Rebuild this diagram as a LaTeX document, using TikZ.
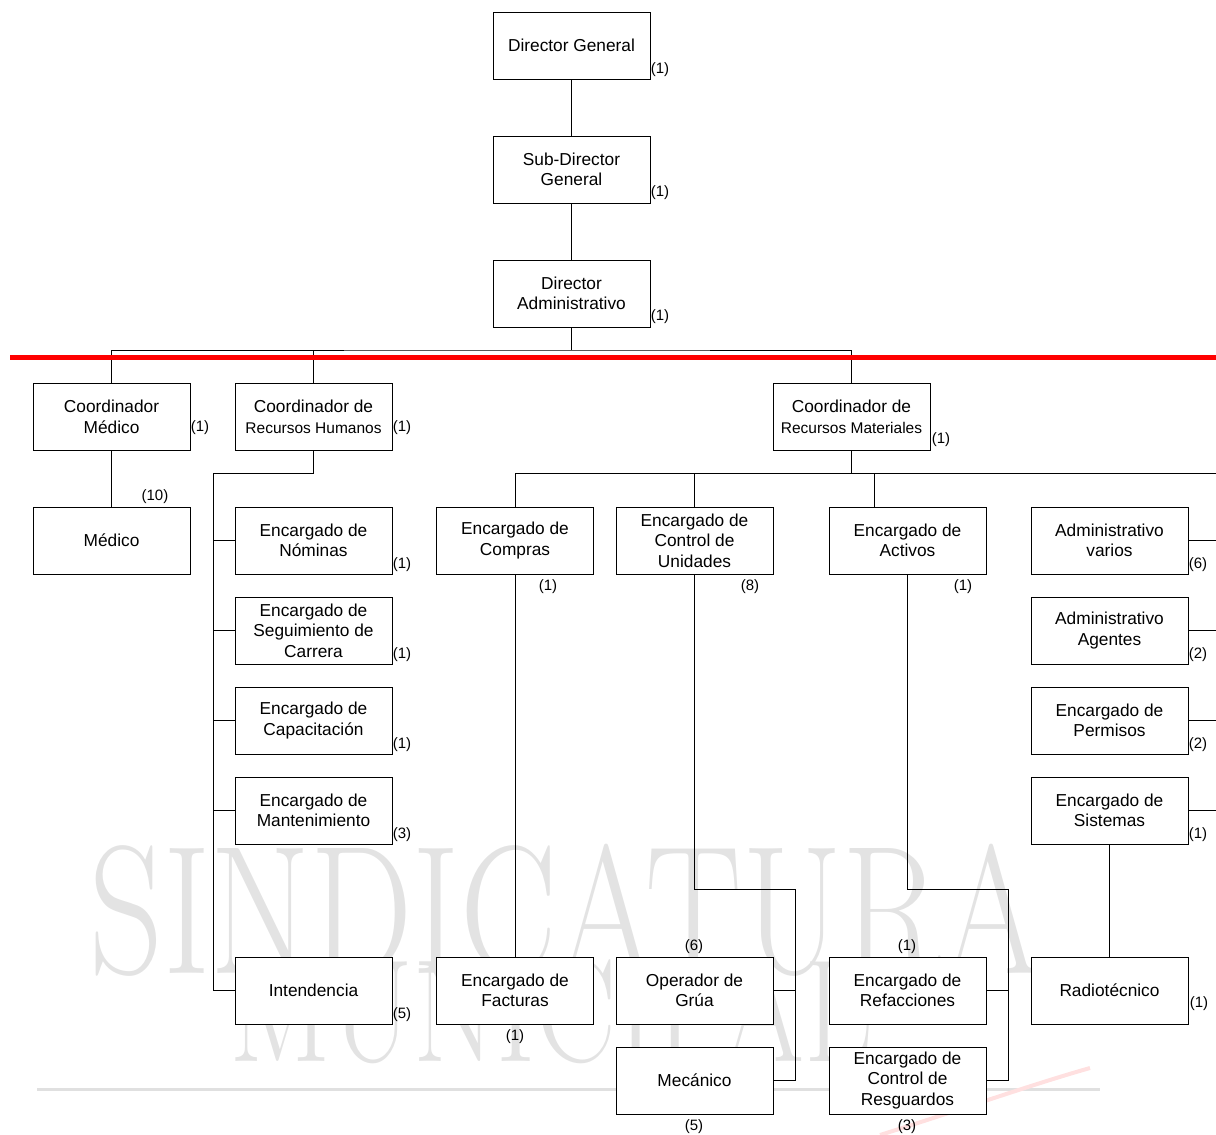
\documentclass[tikz,border=0pt]{standalone}
\usepackage{fontspec}
\newfontfamily\arial{Liberation Sans}
\begin{document}
\begin{tikzpicture}[x=1pt,y=-1pt,
  puesto/.style={draw, fill=white, line width=0.9pt, minimum width=157pt, minimum height=67pt,
    inner sep=0pt, align=center, font=\arial\fontsize{17.3}{20.5}\selectfont},
  cuenta/.style={inner sep=0pt, font=\arial\fontsize{15}{15}\selectfont},
  linea/.style={line width=0.9pt},
  marca/.style={inner sep=0pt, anchor=base west, text=black!11}]
\useasboundingbox (0,0) rectangle (1216,1135);
\clip (0,0) rectangle (1216,1135);

% marca de agua
\node[marca] (wm1) at (89,973) {\scalebox{.79}[1]{\fontsize{183}{183}\selectfont SINDICATURA}};
\node[marca] (wm2) at (229,1061) {\scalebox{.82}[1]{\fontsize{146}{146}\selectfont MUNICIPAL}};
\draw[black!12, line width=3pt] (37,1089) -- (1100,1089);
\draw[red!12, line width=4pt] (880,1135) .. controls (960,1110) and (1030,1085) .. (1090,1068);

% direccion
\node[puesto] (dg) at (571.5,45.5){Director General};
\node[puesto] (sdg) at (571.5,169.5){Sub-Director\\General};
\node[puesto] (da) at (571.5,293.5){Director\\Administrativo};
\node[cuenta] (ndg) at (660,70){(1)};
\node[cuenta] (nsdg) at (660,193){(1)};
\node[cuenta] (nda) at (660,317){(1)};
\draw[linea](dg) -- (sdg);
\draw[linea](sdg) -- (da);

% coordinadores
\node[puesto] (cm) at (111.5,417){Coordinador\\M\'edico};
\node[puesto] (crh) at (313.5,417){Coordinador de\\{\fontsize{15.5}{18}\selectfont Recursos Humanos}};
\node[puesto] (crm) at (851.5,417){Coordinador de\\{\fontsize{15.5}{18}\selectfont Recursos Materiales}};
\node[cuenta] (ncm) at (200,428){(1)};
\node[cuenta] (ncrh) at (402,428){(1)};
\node[cuenta] (ncrm) at (941,440){(1)};
\coordinate (b1) at (571.5,350);
\draw[linea](da) -- (b1);
\draw[linea](cm.north) |- (b1) -| (crm.north);
\draw[linea](crh.north) -- (crh.north |- b1);

% medico
\node[puesto] (med) at (111.5,540.5){M\'edico};
\node[cuenta] (nmed) at (155,497){(10)};
\draw[linea](cm) -- (med);

% recursos humanos
\node[puesto] (nom) at (313.5,540.5){Encargado de\\N\'ominas};
\node[puesto] (seg) at (313.5,630.5){Encargado de\\Seguimiento de\\Carrera};
\node[puesto] (cap) at (313.5,720.5){Encargado de\\Capacitaci\'on};
\node[puesto] (man) at (313.5,810.5){Encargado de\\Mantenimiento};
\node[puesto] (int) at (313.5,990.5){Intendencia};
\node[cuenta] (nnom) at (402,565){(1)};
\node[cuenta] (nseg) at (402,655){(1)};
\node[cuenta] (ncap) at (402,745){(1)};
\node[cuenta] (nman) at (402,835){(3)};
\node[cuenta] (nint) at (402,1015){(5)};
\coordinate (rh) at (213,473);
\draw[linea](crh.south) |- (rh) |- (int.west);
\foreach \p in {nom,seg,cap,man}
  \draw[linea](\p.west) -- (\p.west -| rh);

% recursos materiales
\node[puesto] (com) at (515,540.5){Encargado de\\Compras};
\node[puesto] (cu) at (694.5,540.5){Encargado de\\Control de\\Unidades};
\node[puesto] (act) at (907.5,540.5){Encargado de\\Activos};
\node[puesto] (adv) at (1109.5,540.5){Administrativo\\varios};
\node[puesto] (ada) at (1109.5,630.5){Administrativo\\Agentes};
\node[puesto] (per) at (1109.5,720.5){Encargado de\\Permisos};
\node[puesto] (sis) at (1109.5,810.5){Encargado de\\Sistemas};
\node[cuenta] (ncom) at (548,587){(1)};
\node[cuenta] (ncu) at (750,587){(8)};
\node[cuenta] (nact) at (963,587){(1)};
\node[cuenta] (nadv) at (1198,565){(6)};
\node[cuenta] (nada) at (1198,655){(2)};
\node[cuenta] (nper) at (1198,745){(2)};
\node[cuenta] (nsis) at (1198,835){(1)};
\coordinate (rm) at (1216,473);
\coordinate (actin) at (874,507);
\draw[linea](crm.south) -- (crm.south |- rm);
\draw[linea](com.north) |- (rm);
\draw[linea](cu.north) -- (cu.north |- rm);
\draw[linea](actin) -- (actin |- rm);
\coordinate (der) at (1216,541);
\foreach \p in {adv,ada,per,sis}
  \draw[linea](\p.east) -- (\p.east -| der);

% nivel inferior
\node[puesto] (fac) at (515,990.5){Encargado de\\Facturas};
\node[puesto] (gru) at (694.5,990.5){Operador de\\Gr\'ua};
\node[puesto] (mec) at (694.5,1080.5){Mec\'anico};
\node[puesto] (ref) at (907.5,990.5){Encargado de\\Refacciones};
\node[puesto] (res) at (907.5,1080.5){Encargado de\\Control de\\Resguardos};
\node[puesto] (rad) at (1109.5,990.5){Radiot\'ecnico};
\node[cuenta] (nfac) at (515,1037){(1)};
\node[cuenta] (ngru) at (694,947){(6)};
\node[cuenta] (nmec) at (694,1127){(5)};
\node[cuenta] (nref) at (907,947){(1)};
\node[cuenta] (nres) at (907,1127){(3)};
\node[cuenta] (nrad) at (1199,1004){(1)};
\draw[linea](com) -- (fac);
\coordinate (cuj) at (795,889);
\draw[linea](cu.south) |- (cuj) |- (mec.east);
\draw[linea](gru.east) -- (gru.east -| cuj);
\coordinate (acj) at (1008,889);
\draw[linea](act.south) |- (acj) |- (res.east);
\draw[linea](ref.east) -- (ref.east -| acj);
\draw[linea](sis) -- (rad);

% linea roja
\draw[red, line width=5pt] (10,357.5) -- (1216,357.5);

\end{tikzpicture}
\end{document}
